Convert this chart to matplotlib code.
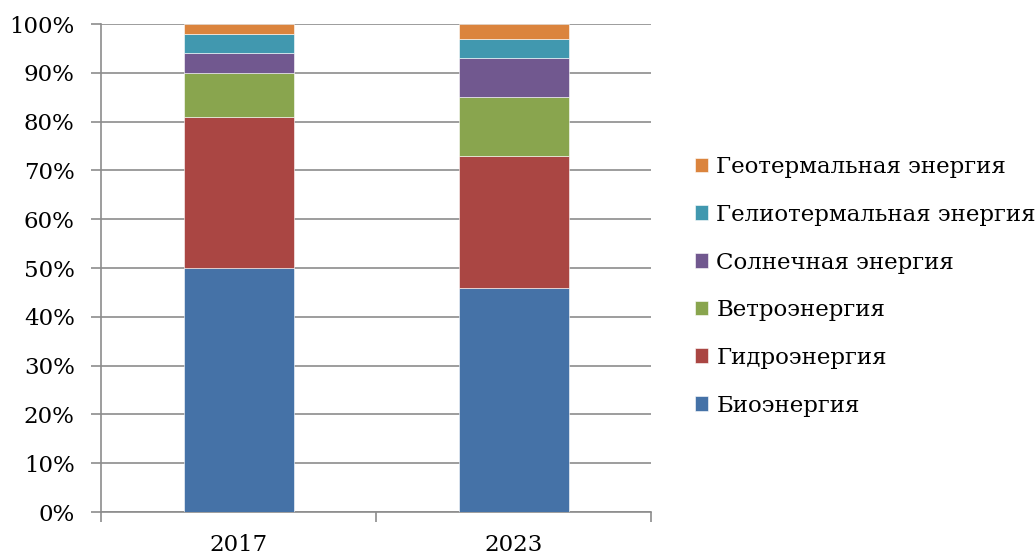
import numpy as np
import matplotlib.pyplot as plt

years = ['2017', '2023']
sources = ['Биоэнергия', 'Гидроэнергия', 'Ветроэнергия', 'Солнечная энергия',
           'Гелиотермальная энергия', 'Геотермальная энергия']
bio = [50, 46]
hydro = [31, 27]
wind = [9, 12]
solar = [4, 8]
helio = [4, 4]
geo = [2, 3]
colors = ['#4572A7', '#AA4643', '#89A54E', '#71588F', '#4198AF', '#DB843D']

plt.rcParams['font.family'] = ['DejaVu Serif']
fs = 16.5

fig = plt.figure(figsize=(10.35, 5.56), dpi=100)
ax = fig.add_axes([0.0976, 0.0791, 0.5314, 0.8777])

x = np.arange(len(years))
bottom = np.zeros(len(years))
for name, vals, c in zip(sources, [bio, hydro, wind, solar, helio, geo], colors):
    ax.bar(x, vals, 0.4, bottom=bottom, color=c, label=name, zorder=3,
           edgecolor='white', linewidth=0.4)
    bottom += np.array(vals)

grid_c = '#8c8c8c'
ax.set_xlim(-0.5, 1.5)
ax.set_ylim(0, 100)
ax.set_yticks(np.arange(0, 101, 10))
ax.set_yticklabels([f'{v}%' for v in range(0, 101, 10)], fontsize=fs)
ax.yaxis.grid(True, color=grid_c, linewidth=1.2, zorder=0)
ax.set_xticks([-0.5, 0.5, 1.5])
ax.set_xticklabels([])
ax.set_xticks(x, minor=True)
ax.set_xticklabels(years, minor=True, fontsize=fs)
ax.tick_params(axis='x', which='minor', length=0, pad=16)
ax.tick_params(axis='x', which='major', length=7, color=grid_c, width=1.2)
ax.tick_params(axis='y', length=7, color=grid_c, width=1.2, pad=12)
for s in ['top', 'right']:
    ax.spines[s].set_visible(False)
for s in ['left', 'bottom']:
    ax.spines[s].set_color(grid_c)
    ax.spines[s].set_linewidth(1.2)

h, l = ax.get_legend_handles_labels()
fig.legend(h[::-1], l[::-1], loc='center left', bbox_to_anchor=(0.660, 0.485),
           frameon=False, fontsize=fs, handlelength=0.6, handleheight=0.6,
           handletextpad=0.35, labelspacing=1.12, borderpad=0)

fig.savefig('out.png', dpi=100)
